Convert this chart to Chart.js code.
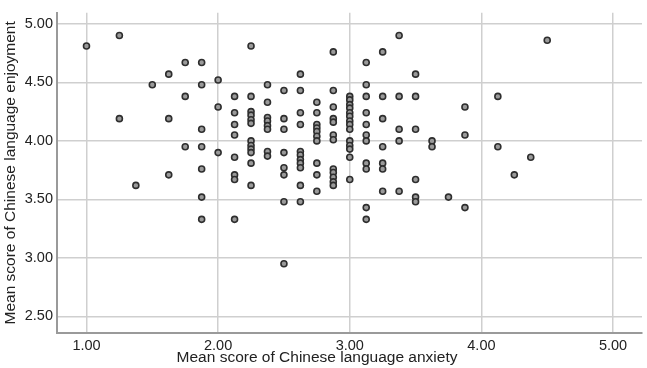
<!DOCTYPE html>
<html>
<head>
<meta charset="utf-8">
<script src="https://cdn.jsdelivr.net/npm/chart.js@4.4.1/dist/chart.umd.min.js"></script>
<style>
  body { margin: 0; background: #fff; }
  #wrap { width: 647px; height: 368px; }
</style>
</head>
<body>
<div id="wrap"><canvas id="chart" width="647" height="368"></canvas></div>
<script>
// anxiety score levels (x) and the enjoyment scores found at each level (y)
const anxietyLevels = [1.0, 1.25, 1.375, 1.5, 1.625, 1.75, 1.875, 2.0, 2.125, 2.25, 2.375, 2.5,
    2.625, 2.75, 2.875, 3.0, 3.125, 3.25, 3.375, 3.5, 3.625, 3.75, 3.875, 4.125, 4.25, 4.375, 4.5];
const enjoymentByLevel = [
    [4.81],
    [4.90, 4.19],
    [3.62],
    [4.48],
    [4.57, 4.19, 3.71],
    [4.67, 4.38, 3.95],
    [4.67, 4.48, 4.10, 3.95, 3.76, 3.52, 3.33],
    [4.52, 4.29, 3.90],
    [4.38, 4.24, 4.14, 4.05, 3.86, 3.71, 3.67, 3.33],
    [4.81, 4.38, 4.25, 4.22, 4.18, 4.15, 4.00, 3.96, 3.93, 3.90, 3.81, 3.62],
    [4.48, 4.33, 4.20, 4.17, 4.13, 4.10, 3.91, 3.87],
    [4.43, 4.19, 4.10, 3.90, 3.77, 3.71, 3.48, 2.95],
    [4.57, 4.43, 4.24, 4.14, 3.91, 3.88, 3.84, 3.81, 3.77, 3.62, 3.48],
    [4.33, 4.24, 4.14, 4.11, 4.08, 4.04, 4.00, 3.81, 3.71, 3.57],
    [4.76, 4.43, 4.29, 4.19, 4.16, 4.05, 4.01, 3.76, 3.73, 3.69, 3.65, 3.62],
    [4.38, 4.35, 4.31, 4.28, 4.24, 4.21, 4.17, 4.14, 4.10, 4.00, 3.96, 3.93, 3.86, 3.67],
    [4.67, 4.48, 4.38, 4.24, 4.14, 4.05, 4.00, 3.81, 3.76, 3.43, 3.33],
    [4.76, 4.38, 4.19, 3.95, 3.81, 3.76, 3.57],
    [4.90, 4.38, 4.10, 4.00, 3.57],
    [4.57, 4.38, 4.10, 3.67, 3.52, 3.48],
    [4.00, 3.95],
    [3.52],
    [4.29, 4.05, 3.43],
    [4.38, 3.95],
    [3.71],
    [3.86],
    [4.86]
];
const xTicks = [1, 2, 3, 4, 5];
const yTicks = [2.5, 3.0, 3.5, 4.0, 4.5, 5.0];
const xTitle = 'Mean score of Chinese language anxiety';
const yTitle = 'Mean score of Chinese language enjoyment';

const points = [];
anxietyLevels.forEach((x, i) => {
    enjoymentByLevel[i].forEach(y => points.push({ x: x, y: y }));
});

const fontFamily = '"Liberation Sans", Arial, Helvetica, sans-serif';

// x title sits a bit left of the plot centre in the original
const xTitlePlugin = {
    id: 'xTitle',
    afterDraw(chart) {
        const ctx = chart.ctx;
        ctx.save();
        ctx.font = '15.5px ' + fontFamily;
        ctx.fillStyle = '#222';
        ctx.textAlign = 'center';
        ctx.textBaseline = 'middle';
        ctx.fillText(xTitle, 317, 358);
        ctx.restore();
    }
};

let ctx = document.getElementById('chart').getContext('2d');
let chart = new Chart(ctx, {
    type: 'scatter',
    data: {
        datasets: [{
            data: points,
            pointRadius: 3,
            pointHoverRadius: 3,
            borderWidth: 1.6,
            borderColor: '#2e2e2e',
            backgroundColor: '#9a9a9a'
        }]
    },
    options: {
        responsive: false,
        animation: false,
        layout: { padding: { top: 8, right: 5, left: 0, bottom: 0 } },
        plugins: { legend: { display: false }, tooltip: { enabled: false } },
        scales: {
            x: {
                type: 'linear',
                min: 0.776,
                max: 5.22,
                afterFit(s) { s.height = 35; },
                afterBuildTicks(s) { s.ticks = xTicks.map(v => ({ value: v })); },
                ticks: {
                    color: '#222',
                    padding: 4,
                    font: { family: fontFamily, size: 14.5 },
                    callback: v => Number(v).toFixed(2)
                },
                grid: { color: '#cfcfcf', lineWidth: 1.5, drawTicks: false },
                border: { color: '#9a9a9a', width: 2 }
            },
            y: {
                type: 'linear',
                min: 2.359,
                max: 5.095,
                afterFit(s) { s.width = 57; },
                afterBuildTicks(s) { s.ticks = yTicks.map(v => ({ value: v })); },
                ticks: {
                    color: '#222',
                    padding: 4,
                    font: { family: fontFamily, size: 14.5 },
                    callback: v => Number(v).toFixed(2)
                },
                grid: { color: '#cfcfcf', lineWidth: 1.5, drawTicks: false },
                border: { color: '#9a9a9a', width: 2 },
                title: {
                    display: true,
                    text: yTitle,
                    color: '#222',
                    padding: { top: 1, bottom: 0 },
                    font: { family: fontFamily, size: 15.5 }
                }
            }
        }
    },
    plugins: [xTitlePlugin]
});
</script>
</body>
</html>
